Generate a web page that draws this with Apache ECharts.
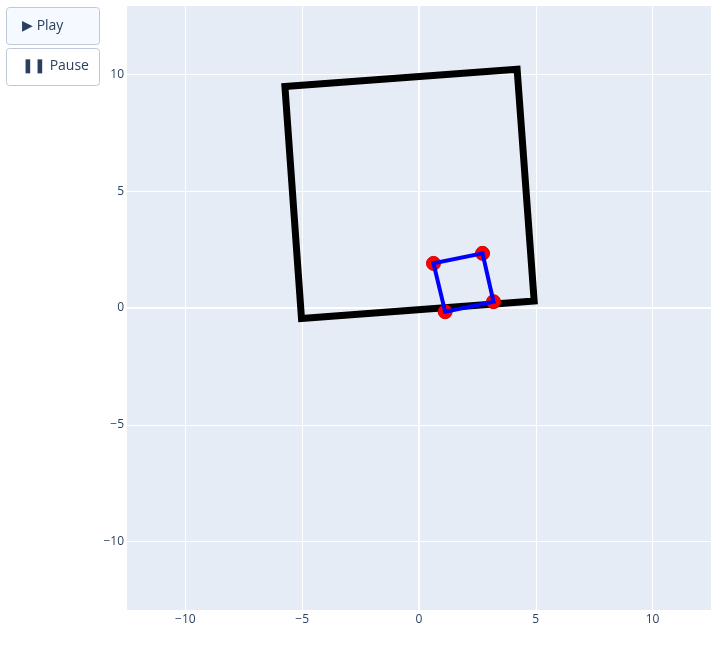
<!DOCTYPE html>
<html>
<head>
<meta charset="utf-8">
<script src="https://cdn.jsdelivr.net/npm/echarts@6/dist/echarts.min.js"></script>
<style>html,body{margin:0;padding:0;background:#fff;}#c{width:720px;height:650px;}</style>
</head>
<body>
<div id="c"></div>
<script>
// data
const bigSquareX = [-5.03, 4.93, 4.20, -5.74, -5.03];
const bigSquareY = [-0.45, 0.30, 10.22, 9.48, -0.45];
const smallSquareX = [1.12, 3.19, 2.72, 0.62, 1.12];
const smallSquareY = [-0.16, 0.27, 2.34, 1.91, -0.16];
const xTicks = [-10, -5, 0, 5, 10];
const yTicks = [-10, -5, 0, 5, 10];
const buttonLabels = ['\u25B6 Play', '\u275A\u275A Pause'];

const zip = (xs, ys) => xs.map((x, i) => [x, ys[i]]);
// closed path: repeat the second vertex so the closing corner is joined
const closed = (xs, ys) => { const p = zip(xs, ys); return p.concat([p[1]]); };
const fmt = v => String(v).replace('-', '\u2212');
const font = '"Open Sans", "Noto Sans", sans-serif';
const tickColor = '#2a3f5f';

const chart = echarts.init(document.getElementById('c'));
const gridLines = [];
xTicks.forEach(v => gridLines.push({xAxis: v, lineStyle: {width: v === 0 ? 2 : 1}}));
yTicks.forEach(v => gridLines.push({yAxis: v, lineStyle: {width: v === 0 ? 2 : 1}}));

chart.setOption({
  animation: false,
  backgroundColor: '#ffffff',
  grid: {left: 127, top: 6, width: 584, height: 604, show: true, backgroundColor: '#E5ECF6', borderWidth: 0},
  xAxis: {
    type: 'value', min: -12.5, max: 12.5,
    axisLine: {show: false}, axisTick: {show: false}, splitLine: {show: false},
    axisLabel: {customValues: xTicks, formatter: fmt, color: tickColor, fontSize: 12, fontFamily: font, margin: 4}
  },
  yAxis: {
    type: 'value', min: -12.93, max: 12.93,
    axisLine: {show: false}, axisTick: {show: false}, splitLine: {show: false},
    axisLabel: {customValues: yTicks, formatter: fmt, color: tickColor, fontSize: 12, fontFamily: font, margin: 3}
  },
  series: [
    {
      type: 'line', data: [], silent: true, z: 0, zlevel: 0,
      markLine: {silent: true, symbol: 'none', label: {show: false}, animation: false, z: 0,
        lineStyle: {color: '#ffffff', type: 'solid', width: 1}, data: gridLines}
    },
    {
      type: 'line', data: closed(bigSquareX, bigSquareY), symbol: 'none', silent: true, z: 5,
      lineStyle: {color: '#000000', width: 7, join: 'miter'}
    },
    {
      type: 'scatter', data: zip(smallSquareX, smallSquareY).slice(0, 4), symbol: 'circle', symbolSize: 14, z: 6,
      itemStyle: {color: '#ff0000', borderColor: '#d00000', borderWidth: 1, opacity: 1}, silent: true
    },
    {
      type: 'line', data: closed(smallSquareX, smallSquareY), symbol: 'none', silent: true, z: 7,
      lineStyle: {color: '#0000ff', width: 4, join: 'miter'}
    }
  ],
  graphic: [
    {type: 'rect', shape: {x: 6.5, y: 7.5, width: 93, height: 37, r: 3},
      style: {fill: '#F4FAFF', stroke: '#BEC8D9', lineWidth: 1}},
    {type: 'text', x: 22, y: 26, style: {text: buttonLabels[0], fill: tickColor, font: '14px ' + font, textVerticalAlign: 'middle'}},
    {type: 'rect', shape: {x: 6.5, y: 48.5, width: 93, height: 37, r: 3},
      style: {fill: '#FFFFFF', stroke: '#BEC8D9', lineWidth: 1}},
    {type: 'text', x: 22, y: 66, style: {text: buttonLabels[1], fill: tickColor, font: '14px ' + font, textVerticalAlign: 'middle'}}
  ]
});
</script>
</body>
</html>
